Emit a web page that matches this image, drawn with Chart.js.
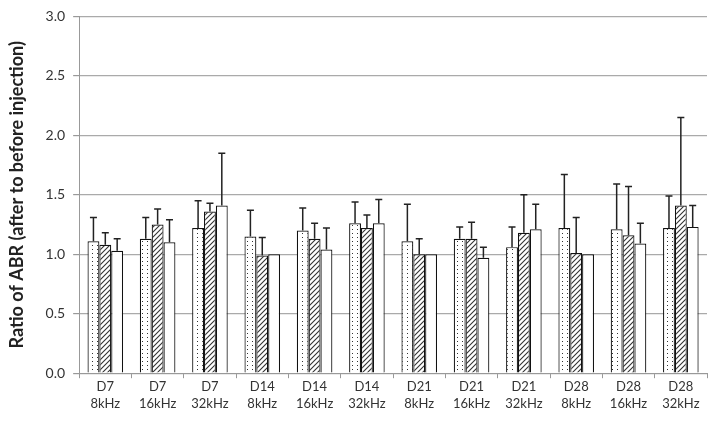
<!DOCTYPE html>
<html>
<head>
<meta charset="utf-8">
<script src="https://cdn.jsdelivr.net/npm/chart.js@4.4.0/dist/chart.umd.min.js"></script>
<style>
  html, body { margin: 0; padding: 0; background: #fff; }
  #wrap { width: 714px; height: 422px; }
</style>
</head>
<body>
<div id="wrap"><canvas id="abrChart" width="714" height="422"></canvas></div>
<script>
// categories (day / frequency)
const days = ['D7', 'D7', 'D7', 'D14', 'D14', 'D14', 'D21', 'D21', 'D21', 'D28', 'D28', 'D28'];
const freqs = ['8kHz', '16kHz', '32kHz', '8kHz', '16kHz', '32kHz', '8kHz', '16kHz', '32kHz', '8kHz', '16kHz', '32kHz'];

// mean ratios for the three groups (dotted, hatched, plain)
const dottedVals = [1.11, 1.13, 1.22, 1.15, 1.20, 1.26, 1.11, 1.13, 1.06, 1.22, 1.21, 1.22];
const hatchedVals = [1.08, 1.25, 1.36, 0.99, 1.13, 1.22, 1.00, 1.13, 1.18, 1.01, 1.16, 1.41];
const plainVals = [1.03, 1.10, 1.41, 1.00, 1.04, 1.26, 1.00, 0.97, 1.21, 1.00, 1.09, 1.23];

// upper error (SD) for each bar
const dottedErr = [0.20, 0.18, 0.23, 0.22, 0.19, 0.18, 0.31, 0.10, 0.17, 0.45, 0.38, 0.27];
const hatchedErr = [0.10, 0.13, 0.07, 0.15, 0.13, 0.11, 0.13, 0.14, 0.32, 0.30, 0.41, 0.74];
const plainErr = [0.10, 0.19, 0.44, 0, 0.18, 0.20, 0, 0.09, 0.21, 0, 0.17, 0.18];

const yTicks = [0, 0.5, 1.0, 1.5, 2.0, 2.5, 3.0];

// fill patterns
function dotPattern() {
  const c = document.createElement('canvas');
  c.width = 5; c.height = 4;
  const g = c.getContext('2d');
  g.fillStyle = '#fff';
  g.fillRect(0, 0, 5, 4);
  g.fillStyle = '#333';
  g.fillRect(2, 1, 1, 1);
  return g.createPattern(c, 'repeat');
}

function hatchPattern() {
  const c = document.createElement('canvas');
  c.width = 5; c.height = 5;
  const g = c.getContext('2d');
  g.fillStyle = '#fff';
  g.fillRect(0, 0, 5, 5);
  g.strokeStyle = '#333';
  g.lineWidth = 1.1;
  g.beginPath();
  g.moveTo(-1, 6); g.lineTo(6, -1);
  g.moveTo(-1, 1); g.lineTo(1, -1);
  g.moveTo(4, 6); g.lineTo(6, 4);
  g.stroke();
  return g.createPattern(c, 'repeat');
}

// draws the one-sided error bars on top of each bar
const errorBars = {
  id: 'errorBars',
  afterDatasetsDraw(chart) {
    const ctx = chart.ctx;
    const y = chart.scales.y;
    ctx.save();
    ctx.strokeStyle = '#222';
    ctx.lineWidth = 1.5;
    chart.data.datasets.forEach((ds, i) => {
      const meta = chart.getDatasetMeta(i);
      meta.data.forEach((bar, j) => {
        const e = ds.errors[j];
        if (!e) return;
        const top = y.getPixelForValue(ds.data[j] + e);
        ctx.beginPath();
        ctx.moveTo(bar.x, bar.y);
        ctx.lineTo(bar.x, top);
        ctx.moveTo(bar.x - 3.5, top);
        ctx.lineTo(bar.x + 3.5, top);
        ctx.stroke();
      });
    });
    ctx.restore();
  }
};

function makeSet(label, data, errors, fill) {
  return {
    label: label,
    data: data,
    errors: errors,
    backgroundColor: fill,
    borderColor: '#111',
    borderWidth: 1.2,
    barPercentage: 1.0,
    categoryPercentage: 0.68
  };
}

const config = {
  type: 'bar',
  data: {
    labels: days.map((d, i) => [d, freqs[i]]),
    datasets: [
      makeSet('dotted', dottedVals, dottedErr, dotPattern()),
      makeSet('hatched', hatchedVals, hatchedErr, hatchPattern()),
      makeSet('plain', plainVals, plainErr, '#fff')
    ]
  },
  options: {
    responsive: false,
    animation: false,
    layout: {
      autoPadding: false,
      padding: { top: 12, right: 7, left: 6, bottom: 10 }
    },
    plugins: {
      legend: { display: false },
      tooltip: { enabled: false }
    },
    scales: {
      x: {
        grid: {
          offset: true,
          drawOnChartArea: false,
          drawTicks: true,
          tickLength: 5,
          color: '#999'
        },
        border: { color: '#999' },
        ticks: {
          color: '#333',
          font: { family: 'Lato', size: 13, lineHeight: 1.3 },
          maxRotation: 0,
          autoSkip: false,
          padding: 0
        }
      },
      y: {
        min: 0,
        max: 3,
        afterBuildTicks(axis) {
          axis.ticks = yTicks.map(v => ({ value: v }));
        },
        grid: {
          color: '#aaa',
          lineWidth: 1.2,
          tickLength: 6,
          tickColor: '#999'
        },
        border: { color: '#999' },
        ticks: {
          color: '#333',
          font: { family: 'Lato', size: 14 },
          padding: 8,
          callback: v => v.toFixed(1)
        },
        title: {
          display: true,
          text: 'Ratio of ABR (after to before injection)',
          color: '#222',
          font: { family: 'Lato', size: 18, weight: 'bold' },
          padding: { top: 0, bottom: 10 }
        }
      }
    }
  },
  plugins: [errorBars]
};

const ctx = document.getElementById('abrChart').getContext('2d');
new Chart(ctx, config);
</script>
</body>
</html>
